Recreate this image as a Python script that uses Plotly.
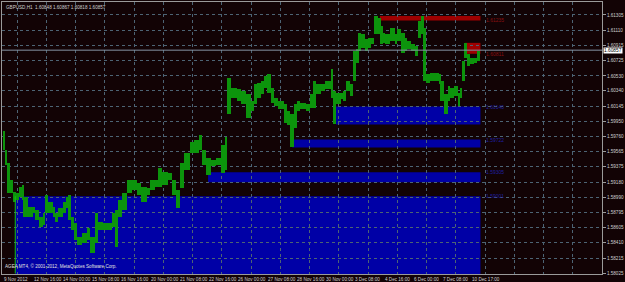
import plotly.graph_objects as go

# ---------------- data ----------------
symbol_header = "GBPUSD,H1  1.60848 1.60867 1.60818 1.60857"
copyright_text = "AGEA MT4, © 2001-2012, MetaQuotes Software Corp."
last_price = 1.60857

# hourly bar index where each group of bars starts; last group ends at last_bar
seg_start = [1, 3, 5, 8, 11, 15, 18, 22, 23, 28, 33, 36, 40, 44, 47, 50, 55, 58, 61, 66,
             69, 72, 75, 78, 82, 87, 93, 96, 101, 105, 110, 114, 120, 123, 126, 131, 136, 142, 147, 152,
             158, 161, 167, 170, 175, 181, 186, 190, 194, 199, 205, 210, 215, 218, 223, 228, 234, 239, 243, 246,
             250, 257, 261, 266, 272, 275, 278, 283, 286, 289, 294, 297, 302, 308, 311, 315, 319, 322, 326, 332,
             337, 340, 343, 348, 353, 359, 362, 365, 370, 373, 376, 380, 384, 387, 390, 392, 397, 400, 403, 406,
             411, 414, 416, 419, 424, 429, 432, 436, 440, 443, 447, 451, 455, 458, 461, 463, 468, 478, 479, 483,
             487, 490, 494, 498, 501, 503, 506, 508, 512, 516, 519]
last_bar = 523

seg_high = [1.59836, 1.59583, 1.59419, 1.59203, 1.59051, 1.59039, 1.59115, 1.59140, 1.58988, 1.58862,
            1.58862, 1.58824, 1.58735, 1.58786, 1.59013, 1.58925, 1.58862, 1.58786, 1.58849, 1.58925,
            1.58988, 1.59013, 1.58735, 1.58659, 1.58482, 1.58532, 1.58596, 1.58482, 1.58786, 1.58672,
            1.58659, 1.58659, 1.58786, 1.58824, 1.58950, 1.59039, 1.59203, 1.59203, 1.59165, 1.59115,
            1.59102, 1.59203, 1.59203, 1.59355, 1.59305, 1.59292, 1.59203, 1.59077, 1.59419, 1.59545,
            1.59684, 1.59710, 1.59773, 1.59583, 1.59482, 1.59457, 1.59482, 1.59646, 1.59748, 1.60507,
            1.60381, 1.60368, 1.60343, 1.60305, 1.60216, 1.60431, 1.60444, 1.60469, 1.60533, 1.60558,
            1.60381, 1.60254, 1.60216, 1.60178, 1.60090, 1.60052, 1.60178, 1.60216, 1.60191, 1.60178,
            1.60305, 1.60469, 1.60431, 1.60431, 1.60469, 1.60621, 1.60343, 1.60317, 1.60317, 1.60343,
            1.60469, 1.60431, 1.60849, 1.60874, 1.61077, 1.61064, 1.61001, 1.61014, 1.61014, 1.61292,
            1.61267, 1.61166, 1.61077, 1.61064, 1.61140, 1.61064, 1.61128, 1.61077, 1.61014, 1.60976,
            1.60938, 1.60912, 1.61229, 1.61292, 1.61140, 1.60558, 1.60571, 1.60558, 1.60469, 1.60305,
            1.60406, 1.60381, 1.60406, 1.60317, 1.60381, 1.60723, 1.60950, 1.60811, 1.60760, 1.60760,
            1.60849]

seg_low = [1.59583, 1.59393, 1.59039, 1.59039, 1.58925, 1.58950, 1.58988, 1.58950, 1.58735, 1.58735,
           1.58786, 1.58697, 1.58608, 1.58634, 1.58786, 1.58786, 1.58735, 1.58672, 1.58735, 1.58786,
           1.58849, 1.58697, 1.58570, 1.58444, 1.58381, 1.58406, 1.58444, 1.58279, 1.58406, 1.58570,
           1.58570, 1.58570, 1.58608, 1.58355, 1.58735, 1.58824, 1.59039, 1.59077, 1.59013, 1.58925,
           1.59013, 1.59077, 1.59115, 1.59115, 1.59140, 1.59203, 1.59013, 1.58849, 1.59102, 1.59330,
           1.59545, 1.59545, 1.59583, 1.59393, 1.59267, 1.59381, 1.59393, 1.59292, 1.59330, 1.60052,
           1.60254, 1.60216, 1.60178, 1.60001, 1.60090, 1.60178, 1.60254, 1.60305, 1.60381, 1.60317,
           1.60191, 1.60153, 1.60115, 1.59938, 1.59900, 1.59621, 1.59874, 1.60090, 1.60115, 1.60090,
           1.60128, 1.60128, 1.60305, 1.60343, 1.60368, 1.60254, 1.59925, 1.60178, 1.60241, 1.60216,
           1.60343, 1.60279, 1.60469, 1.60697, 1.60849, 1.60887, 1.60849, 1.60887, 1.60938, 1.61064,
           1.61064, 1.60938, 1.60950, 1.60938, 1.60976, 1.60938, 1.60976, 1.60824, 1.60849, 1.60874,
           1.60849, 1.60786, 1.61014, 1.61064, 1.60469, 1.60444, 1.60469, 1.60431, 1.60216, 1.60052,
           1.60216, 1.60254, 1.60279, 1.60153, 1.60254, 1.60469, 1.60760, 1.60659, 1.60685, 1.60697,
           1.60723]

# supply / demand zones
zone_start = [14, 225, 317, 365, 413, 506]
zone_end = [523, 523, 523, 523, 523, 523]
zone_top = [1.59001, 1.59305, 1.59722, 1.60140, 1.61292, 1.60950]
zone_bottom = [1.57900, 1.59178, 1.59621, 1.59912, 1.61235, 1.60811]
zone_kind = ["demand", "demand", "demand", "demand", "supply", "supply"]
zone_label = ["1.59001", "1.59305", "1.59722", "1.60140", "1.61235", "1.60811"]

# a vertical green line object
vline_x = [14, 14]
vline_y = [1.59001, 1.58020]

# axes
x_tick_bars = [0, 32, 64, 96, 128, 160, 192, 224, 256, 288, 320, 352, 384, 416, 448, 480, 512]
x_tick_text = ["9 Nov 2012", "12 Nov 16:00", "14 Nov 00:00", "15 Nov 08:00", "16 Nov 16:00",
               "20 Nov 00:00", "21 Nov 08:00", "22 Nov 16:00", "26 Nov 00:00", "27 Nov 08:00",
               "28 Nov 16:00", "30 Nov 00:00", "3 Dec 08:00", "4 Dec 16:00", "6 Dec 00:00",
               "7 Dec 08:00", "10 Dec 17:00"]
y_ticks = [1.61305, 1.61110, 1.60915, 1.60725, 1.60530, 1.60340, 1.60145, 1.59950, 1.59760,
           1.59565, 1.59375, 1.59180, 1.58990, 1.58795, 1.58605, 1.58410, 1.58215, 1.58025]

# ---------------- styles ----------------
BG = "#120305"
GRID = "#4d6474"
FRAME = "#9a9a9a"
GREEN = "#0c940c"
BLUE = "#0000a6"
RED = "#9e0000"
TXT = "#d0d0d0"
FONT = "Liberation Sans"

seg_end = seg_start[1:] + [last_bar]
widths = [e - s for s, e in zip(seg_start, seg_end)]
spans = [h - l for h, l in zip(seg_high, seg_low)]

fig = go.Figure()

# zones as shapes (below data)
for s, e, t, b, k in zip(zone_start, zone_end, zone_top, zone_bottom, zone_kind):
    fig.add_shape(type="rect", xref="x", yref="y", x0=s, x1=e, y0=b, y1=t,
                  fillcolor=BLUE if k == "demand" else RED, line=dict(width=0), layer="below")

fig.add_trace(go.Bar(x=seg_start, y=spans, base=seg_low, width=widths, offset=0,
                     marker=dict(color=GREEN, line=dict(width=0)), showlegend=False,
                     hoverinfo="skip"))

fig.add_trace(go.Scatter(x=vline_x, y=vline_y, mode="lines",
                         line=dict(color="#12c012", width=1), showlegend=False, hoverinfo="skip"))

# bid line
fig.add_shape(type="line", xref="paper", yref="y", x0=0, x1=1, y0=last_price, y1=last_price,
              line=dict(color="#8494a4", width=1))

# zone labels
for e, t, b, k, lab in zip(zone_end, zone_top, zone_bottom, zone_kind, zone_label):
    yy = t if k == "demand" else b
    fig.add_annotation(x=e, y=yy, xref="x", yref="y", text=lab, showarrow=False,
                       xanchor="left", yanchor="middle", xshift=4,
                       font=dict(family=FONT, size=5, color="#2020a0" if k == "demand" else "#8a1010"))

# x tick labels (left aligned at tick)
for xv, tx in zip(x_tick_bars, x_tick_text):
    fig.add_annotation(x=xv, y=0, xref="x", yref="paper", text=tx, showarrow=False,
                       xanchor="left", yanchor="top", yshift=-1,
                       font=dict(family=FONT, size=4.6, color=TXT))

# price label box
fig.add_annotation(x=1, y=last_price, xref="paper", yref="y", text=f"{last_price:.5f}",
                   showarrow=False, xanchor="left", yanchor="middle", xshift=1,
                   bgcolor="#ffffff", borderpad=0,
                   font=dict(family=FONT, size=4.8, color="#000000"))

fig.add_annotation(x=0, y=1, xref="paper", yref="paper", text=symbol_header, showarrow=False,
                   xanchor="left", yanchor="top", xshift=2, yshift=-1,
                   font=dict(family=FONT, size=4.6, color=TXT))
fig.add_annotation(x=0, y=0, xref="paper", yref="paper", text=copyright_text, showarrow=False,
                   xanchor="left", yanchor="bottom", xshift=1, yshift=3,
                   font=dict(family=FONT, size=4.6, color="#e0e0e0"))

fig.update_layout(
    width=625, height=282,
    margin=dict(l=1, r=19, t=1, b=8),
    paper_bgcolor=BG, plot_bgcolor=BG,
    bargap=0, showlegend=False,
    xaxis=dict(range=[-0.5, 656], tickmode="linear", tick0=16, dtick=32,
               showticklabels=False, ticks="", showgrid=True, gridcolor=GRID, griddash="dot",
               gridwidth=1, zeroline=False, showline=True, linecolor=FRAME, linewidth=1, mirror=True),
    yaxis=dict(range=[1.58013, 1.61469], side="right", tickmode="array", tickvals=y_ticks,
               ticktext=[f"{v:.5f}" for v in y_ticks], ticks="outside", ticklen=3, tickcolor=FRAME,
               tickfont=dict(family=FONT, size=4.6, color=TXT),
               showgrid=True, gridcolor=GRID, griddash="dot", gridwidth=1, zeroline=False,
               showline=True, linecolor=FRAME, linewidth=1, mirror=True),
)

fig.write_html("out.html")
